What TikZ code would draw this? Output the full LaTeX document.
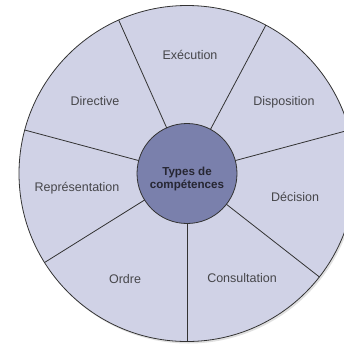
\documentclass[tikz,border=0pt]{standalone}
\usepackage{fontspec}
\setmainfont{Liberation Sans}
\definecolor{wheelfill}{RGB}{208,210,230}
\definecolor{corefill}{RGB}{122,128,172}
\definecolor{inkgray}{RGB}{70,70,74}
\definecolor{coreink}{RGB}{38,38,50}

\begin{document}
\begin{tikzpicture}[x=1pt, y=-1pt, wheel/.style={draw=black!80, circle, fill=wheelfill, minimum size=336pt, inner sep=0pt, outer sep=0pt, line width=0.8pt}, core/.style={draw=black!80, circle, fill=corefill, minimum size=100pt, inner sep=0pt, outer sep=0pt, line width=0.8pt}, lab/.style={text=inkgray, font=\fontsize{12.5}{14}\selectfont}, spoke/.style={draw=black!80, line width=0.8pt}]
                \useasboundingbox (0,0) rectangle (344,343);
                \clip (0,0) rectangle (344,343);
                % nodes
                \node[circle, fill=black!30, opacity=0.4, minimum size=336pt] (shade) at (188.5,175.5) {};
                \node[wheel] (wheel) at (187,173.5) {};
                \node[core] (core) at (187,173.5) {};
                \node[text=coreink, font=\bfseries\fontsize{11.6}{13}\selectfont, align=center] (title) at (187,179) {Types de\\compétences};
                \node[lab] (execution) at (190,55) {Exécution};
                \node[lab] (disposition) at (284,102) {Disposition};
                \node[lab] (decision) at (295,197) {Décision};
                \node[lab] (consultation) at (242,278) {Consultation};
                \node[lab] (ordre) at (125,279) {Ordre};
                \node[lab] (representation) at (77,188) {Représentation};
                \node[lab] (directive) at (95,101) {Directive};
                % edges
                \foreach \a in {114.7, 62.9, 15, -38.4, -90, -148.7, 165.2}
                    \draw [spoke] (core.\a) -- (wheel.\a);
            \end{tikzpicture}
\end{document}
